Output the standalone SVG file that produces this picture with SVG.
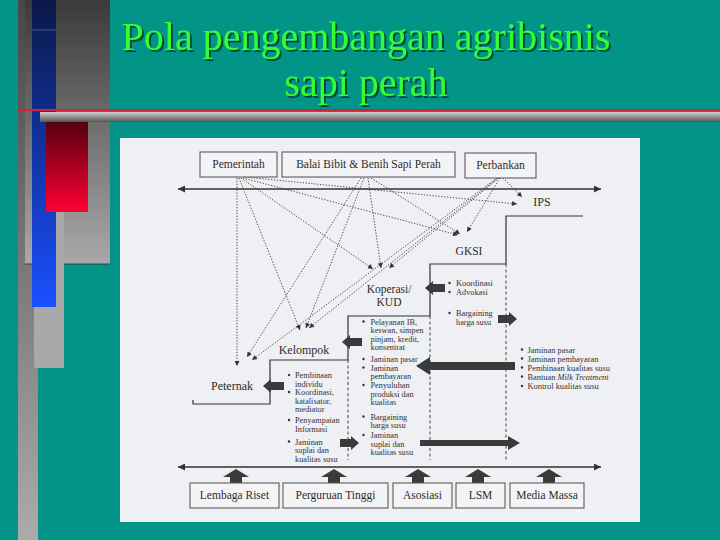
<svg xmlns="http://www.w3.org/2000/svg" width="720" height="540" viewBox="0 0 720 540">
<defs>
<linearGradient id="gStrip" x1="0" y1="0" x2="0" y2="1"><stop offset="0" stop-color="#474747"/><stop offset="1" stop-color="#ababab"/></linearGradient>
<linearGradient id="gBig" x1="0" y1="0" x2="0" y2="1"><stop offset="0" stop-color="#3a3a3a"/><stop offset="1" stop-color="#a9a9a9"/></linearGradient>
<linearGradient id="gBlue" x1="0" y1="0" x2="0" y2="1"><stop offset="0" stop-color="#0a1848"/><stop offset="1" stop-color="#1a50ff"/></linearGradient>
<linearGradient id="gRed" x1="0" y1="0" x2="0" y2="1"><stop offset="0" stop-color="#560010"/><stop offset="1" stop-color="#ff0033"/></linearGradient>
<linearGradient id="gBar" x1="0" y1="0" x2="0" y2="1"><stop offset="0" stop-color="#d0d0d0"/><stop offset="1" stop-color="#555555"/></linearGradient>
<filter id="sh" x="-5%" y="-30%" width="110%" height="160%">
<feOffset in="SourceAlpha" dx="2" dy="2" result="o"/>
<feFlood flood-color="#064a3c"/>
<feComposite in2="o" operator="in" result="s"/>
<feMerge><feMergeNode in="s"/><feMergeNode in="SourceGraphic"/></feMerge>
</filter>
<marker id="ah" viewBox="0 0 10 10" refX="10" refY="5" markerWidth="6" markerHeight="5" markerUnits="userSpaceOnUse" orient="auto"><path d="M0,0 L10,5 L0,10 Z" fill="#333"/></marker>
<marker id="ax" viewBox="0 0 10 10" refX="10" refY="5" markerWidth="10" markerHeight="7" markerUnits="userSpaceOnUse" orient="auto-start-reverse"><path d="M0,0 L10,5 L0,10 Z" fill="#333"/></marker>
<style>
.title{font-family:"Liberation Serif","Times New Roman",serif;font-size:40px;fill:#33ff33;text-anchor:middle;filter:url(#sh)}
.box{fill:#f4f4f6;stroke:#5c5c5c;stroke-width:1.1}
.lbl{font-family:"Liberation Serif","Times New Roman",serif;font-size:11.5px;fill:#2c2c2c;text-anchor:middle}
.big{font-family:"Liberation Serif","Times New Roman",serif;font-size:12px;fill:#2c2c2c;text-anchor:middle}
.sm{font-family:"Liberation Serif","Times New Roman",serif;font-size:8.3px;fill:#333}
.rs{font-family:"Liberation Serif","Times New Roman",serif;font-size:8.4px;fill:#333}
.dot{fill:none;stroke:#3a3a3a;stroke-width:0.9;stroke-dasharray:1.3 1.6;marker-end:url(#ah)}
.step{fill:none;stroke:#333;stroke-width:1.2}
.dash{fill:none;stroke:#444;stroke-width:1;stroke-dasharray:3 2.5}
.axis{fill:none;stroke:#333;stroke-width:1.5;marker-start:url(#ax);marker-end:url(#ax)}
.blk{fill:#3b3b3b}
.bul{fill:#333}
</style>
</defs>
<rect width="720" height="540" fill="#039488"/>
<!-- left decoration -->
<rect x="18" y="0" width="20" height="540" fill="url(#gStrip)"/>
<rect x="25" y="0" width="85" height="264" fill="url(#gBig)"/>
<line x1="25" y1="264" x2="110" y2="264" stroke="#2a2a2a" stroke-width="0.8"/>
<rect x="34" y="122" width="30" height="246" fill="#a9a9a9"/>
<rect x="32" y="0" width="24" height="307" fill="url(#gBlue)"/>
<line x1="32" y1="30" x2="56" y2="30" stroke="#4a6aa8" stroke-width="0.8"/>
<rect x="46" y="122" width="42" height="90" fill="url(#gRed)"/>
<rect x="40" y="112" width="680" height="10" fill="url(#gBar)"/>
<rect x="18" y="109" width="702" height="2.2" fill="#d8203a"/>
<!-- title -->
<text class="title" x="366" y="50">Pola pengembangan agribisnis</text>
<text class="title" x="366" y="96">sapi perah</text>
<!-- scanned figure background -->
<rect x="120" y="138" width="520" height="384" fill="#eff0f3"/>
<!-- connectors -->
<g id="connectors">
<line class="axis" x1="178" y1="189" x2="601" y2="189"/>
<line class="axis" x1="178" y1="467" x2="601" y2="467"/>
<polyline class="step" points="193,400 193,404 270,404 270,360 348,360 348,316 430,316 430,264 506,264 506,216 583,216"/>
<line class="dash" x1="348" y1="360" x2="348" y2="460"/>
<line class="dash" x1="430" y1="316" x2="430" y2="460"/>
<line class="dash" x1="506" y1="264" x2="506" y2="460"/>
<path class="dot" d="M237,178 L237,366"/>
<path class="dot" d="M239,178 L300,330"/>
<path class="dot" d="M241,178 L373,269"/>
<path class="dot" d="M243,178 L458,235"/>
<path class="dot" d="M245,177 L517,204"/>
<path class="dot" d="M361,178 L247,357"/>
<path class="dot" d="M364,178 L306,328"/>
<path class="dot" d="M368,178 L381,268"/>
<path class="dot" d="M371,178 L460,234"/>
<path class="dot" d="M503,178 L522,197"/>
<path class="dot" d="M500,178 L467,232"/>
<path class="dot" d="M499,178 L389,268"/>
<path class="dot" d="M498,178 L309,328"/>
<path class="dot" d="M497,178 L252,360"/>
<!-- block arrows -->
<path class="blk" d="M263,386 L271,379 L271,382 L284,382 L284,390 L271,390 L271,393 Z"/>
<path class="blk" d="M342,342 L350,335 L350,338 L362,338 L362,346 L350,346 L350,349 Z"/>
<path class="blk" d="M425,288 L433,281 L433,284 L445,284 L445,292 L433,292 L433,295 Z"/>
<path class="blk" d="M517,319 L509,312 L509,315 L498,315 L498,323 L509,323 L509,326 Z"/>
<path class="blk" d="M416,366 L430,357 L430,362 L515,362 L515,370 L430,370 L430,375 Z"/>
<path class="blk" d="M359,443 L351,436 L351,439 L340,439 L340,447 L351,447 L351,450 Z"/>
<path class="blk" d="M520,443 L508,436 L508,440 L420,440 L420,446 L508,446 L508,450 Z"/>
<path class="blk" d="M236,469 L249,477 L242,477 L242,484 L230,484 L230,477 L223,477 Z"/>
<path class="blk" d="M334,469 L347,477 L340,477 L340,484 L328,484 L328,477 L321,477 Z"/>
<path class="blk" d="M418,469 L431,477 L424,477 L424,484 L412,484 L412,477 L405,477 Z"/>
<path class="blk" d="M478,469 L491,477 L484,477 L484,484 L472,484 L472,477 L465,477 Z"/>
<path class="blk" d="M549,469 L562,477 L555,477 L555,484 L543,484 L543,477 L536,477 Z"/>
</g>
<!-- top nodes -->
<g id="pemerintah"><rect class="box" x="200" y="152" width="77" height="25"/><text class="lbl" x="238.5" y="168">Pemerintah</text></g>
<g id="balai"><rect class="box" x="282" y="152" width="173" height="25"/><text class="lbl" x="368.5" y="168">Balai Bibit &amp; Benih Sapi Perah</text></g>
<g id="perbankan"><rect class="box" x="465" y="153" width="71" height="25"/><text class="lbl" x="500.5" y="169">Perbankan</text></g>
<g id="ips"><text class="big" x="542" y="206">IPS</text></g>
<g id="gksi"><text class="lbl" x="469" y="255">GKSI</text></g>
<g id="koperasi"><text class="lbl" x="389" y="293">Koperasi/</text><text class="lbl" x="389" y="306">KUD</text></g>
<g id="kelompok"><text class="big" x="304" y="354">Kelompok</text></g>
<g id="peternak"><text class="big" x="232" y="390">Peternak</text></g>
<!-- GKSI step text -->
<g id="gksi-tasks">
<circle class="bul" cx="449.5" cy="283" r="1.2"/><text class="sm" x="456" y="286">Koordinasi</text>
<circle class="bul" cx="449.5" cy="292" r="1.2"/><text class="sm" x="456" y="295">Advokasi</text>
<circle class="bul" cx="449.5" cy="313" r="1.2"/><text class="sm" x="456" y="316">Bargaining</text>
<text class="sm" x="456" y="324.5">harga susu</text>
</g>
<g id="ips-tasks">
<circle class="bul" cx="522" cy="349.5" r="1.2"/><text class="rs" x="527.5" y="352.5">Jaminan pasar</text>
<circle class="bul" cx="522" cy="358.5" r="1.2"/><text class="rs" x="527.5" y="361.5">Jaminan pembayaran</text>
<circle class="bul" cx="522" cy="367.5" r="1.2"/><text class="rs" x="527.5" y="370.5">Pembinaan kualitas susu</text>
<circle class="bul" cx="522" cy="376.5" r="1.2"/><text class="rs" x="527.5" y="379.5">Bantuan <tspan font-style="italic">Milk Treatment</tspan></text>
<circle class="bul" cx="522" cy="386" r="1.2"/><text class="rs" x="527.5" y="389">Kontrol kualitas susu</text>
</g>
<g id="koperasi-tasks">
<circle class="bul" cx="363.5" cy="321.5" r="1.2"/><text class="sm" x="370.5" y="324.5">Pelayanan IB,</text>
<text class="sm" x="370.5" y="333">keswan, simpen</text>
<text class="sm" x="370.5" y="341.5">pinjam, kredit,</text>
<text class="sm" x="370.5" y="350">konsentrat</text>
<circle class="bul" cx="363.5" cy="359" r="1.2"/><text class="sm" x="370.5" y="362">Jaminan pasar</text>
<circle class="bul" cx="363.5" cy="367.5" r="1.2"/><text class="sm" x="370.5" y="370.5">Jaminan</text>
<text class="sm" x="370.5" y="379">pembayaran</text>
<circle class="bul" cx="363.5" cy="385" r="1.2"/><text class="sm" x="370.5" y="388">Penyuluhan</text>
<text class="sm" x="370.5" y="396.5">produksi dan</text>
<text class="sm" x="370.5" y="405">kualitas</text>
<circle class="bul" cx="363.5" cy="416.5" r="1.2"/><text class="sm" x="370.5" y="419.5">Bargaining</text>
<text class="sm" x="370.5" y="428">harga susu</text>
<circle class="bul" cx="363.5" cy="435" r="1.2"/><text class="sm" x="370.5" y="438">Jaminan</text>
<text class="sm" x="370.5" y="446.5">suplai dan</text>
<text class="sm" x="370.5" y="455">kualitas susu</text>
</g>
<g id="kelompok-tasks">
<circle class="bul" cx="289" cy="375" r="1.2"/><text class="sm" x="295" y="378">Pembinaan</text>
<text class="sm" x="295" y="386.5">individu</text>
<circle class="bul" cx="289" cy="392" r="1.2"/><text class="sm" x="295" y="395">Koordinasi,</text>
<text class="sm" x="295" y="403.5">katalisator,</text>
<text class="sm" x="295" y="412">mediator</text>
<circle class="bul" cx="289" cy="420" r="1.2"/><text class="sm" x="295" y="423">Penyampaian</text>
<text class="sm" x="295" y="431.5">Informasi</text>
<circle class="bul" cx="289" cy="441.5" r="1.2"/><text class="sm" x="295" y="444.5">Jaminan</text>
<text class="sm" x="295" y="453">suplai dan</text>
<text class="sm" x="295" y="461.5">kualitas susu</text>
</g>
<!-- bottom nodes -->
<g id="lembaga"><rect class="box" x="190" y="483" width="89" height="25"/><text class="lbl" x="234.5" y="499">Lembaga Riset</text></g>
<g id="perguruan"><rect class="box" x="283" y="483" width="105" height="25"/><text class="lbl" x="335.5" y="499">Perguruan Tinggi</text></g>
<g id="asosiasi"><rect class="box" x="393" y="483" width="59" height="25"/><text class="lbl" x="422.5" y="499">Asosiasi</text></g>
<g id="lsm"><rect class="box" x="456" y="483" width="49" height="25"/><text class="lbl" x="480.5" y="499">LSM</text></g>
<g id="media"><rect class="box" x="510" y="483" width="74" height="25"/><text class="lbl" x="547" y="499">Media Massa</text></g>
</svg>
